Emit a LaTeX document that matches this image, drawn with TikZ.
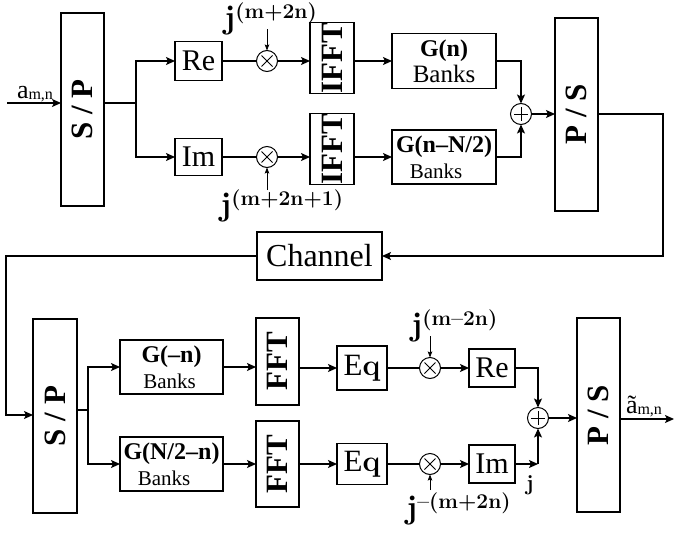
\documentclass[tikz,border=0pt]{standalone}
\usepackage{fontspec}
\usepackage{graphicx}
\newfontfamily\tms{Liberation Serif}
\usetikzlibrary{arrows.meta}
\newcommand\rottxt[1]{\rotatebox{90}{\tms\bfseries\fontsize{31}{32}\selectfont #1}}
\newcommand\jsup[1]{{\bfseries\fontsize{33}{33}\selectfont j}\raisebox{10pt}{\bfseries\fontsize{21}{21}\selectfont #1}}
\begin{document}
\begin{tikzpicture}[x=1pt,y=-1pt,
  every node/.style={inner sep=0pt, outer sep=0pt},
  box/.style={draw, line width=1.3pt, inner sep=0pt},
  conn/.style={line width=1.3pt},
  arr/.style={conn, -{Stealth[length=9pt,width=8pt,inset=2pt]}},
  thinarr/.style={line width=0.7pt, -{Stealth[length=6pt,width=4.5pt,inset=1pt]}},
  opc/.style={draw, circle, line width=1pt, minimum size=21pt},
  mult/.style={opc, path picture={
     \draw[line width=0.8pt] ([shift={(-5.5,-5.5)}]path picture bounding box.center) -- ([shift={(5.5,5.5)}]path picture bounding box.center);
     \draw[line width=0.8pt] ([shift={(-5.5,5.5)}]path picture bounding box.center) -- ([shift={(5.5,-5.5)}]path picture bounding box.center);}},
  addc/.style={opc, path picture={
     \draw[line width=0.8pt] ([shift={(-7,0)}]path picture bounding box.center) -- ([shift={(7,0)}]path picture bounding box.center);
     \draw[line width=0.8pt] ([shift={(0,-7)}]path picture bounding box.center) -- ([shift={(0,7)}]path picture bounding box.center);}},
  rtxt/.style={font=\tms\fontsize{30}{30}\selectfont},
  gtxt/.style={font=\tms\fontsize{24}{26}\selectfont, align=center}
]
\useasboundingbox (0,0) rectangle (675,533);

% ---------- transmitter ----------
\node[box, minimum width=43pt, minimum height=193pt] (sp1) at (82.5,109.5) {\rottxt{S / P}};
\node[box, rtxt, minimum width=47pt, minimum height=39pt] (re1) at (198.5,61) {Re};
\node[box, rtxt, minimum width=47pt, minimum height=37pt] (im1) at (198.5,157) {Im};
\node[mult] (m1) at (267,61) {};
\node[mult] (m2) at (267,157) {};
\node[box, minimum width=44pt, minimum height=70pt] (ifft1) at (332,58) {\rottxt{IFFT}};
\node[box, minimum width=44pt, minimum height=70pt] (ifft2) at (332,149) {\rottxt{IFFT}};
\node[box, gtxt, minimum width=104pt, minimum height=55pt] (g1) at (444,61) {\textbf{G(n)}\\{\fontsize{25}{25}\selectfont Banks}};
\node[box, gtxt, minimum width=104pt, minimum height=54pt] (g2) at (444,157) {\textbf{G(n–N/2)}\\{\fontsize{21}{21}\selectfont Banks}\hspace*{16pt}};
\node[addc] (add1) at (521,114) {};
\node[box, minimum width=43pt, minimum height=193pt] (ps1) at (576.5,114.5) {\rottxt{P / S}};
\node[box, font=\tms\fontsize{32}{32}\selectfont, minimum width=125pt, minimum height=48pt] (ch) at (319.5,256) {Channel};

\coordinate (in) at (7,103);
\draw[arr] (in) -- (in -| sp1.west);
\node[anchor=base west, font=\tms\fontsize{26}{26}\selectfont] (ain) at (17,98) {a\raisebox{-1pt}{\fontsize{16}{16}\selectfont m,n}};

\coordinate (j1) at (136,103);
\draw[conn] (sp1.east |- j1) -- (j1);
\draw[arr] (j1) |- (re1.west);
\draw[arr] (j1) |- (im1.west);
\draw[conn] (re1.east) -- (m1.west);
\draw[conn] (im1.east) -- (m2.west);
\draw[arr] (m1.east) -- (m1 -| ifft1.west);
\draw[arr] (m2.east) -- (m2 -| ifft2.west);
\draw[arr] (ifft1.east |- g1) -- (g1.west);
\draw[arr] (ifft2.east |- g2) -- (g2.west);
\draw[arr] (g1.east) -| (add1.north);
\draw[arr] (g2.east) -| (add1.south);
\draw[arr] (add1.east) -- (add1 -| ps1.west);
\coordinate (c1) at (663,114);
\draw[arr] (ps1.east |- c1) -- (c1) |- (ch.east);

\node[anchor=base west] (jl1) at (224,28) {\jsup{(m+2n)}};
\coordinate (jt1) at (267,29);
\draw[thinarr] (jt1) -- (m1.north);
\node[anchor=base west] (jl2) at (220,215) {\jsup{(m+2n+1)}};
\coordinate (jt2) at (267,190);
\draw[thinarr] (jt2) -- (m2.south);

% ---------- receiver ----------
\node[box, minimum width=44pt, minimum height=194pt] (sp2) at (55,416) {\rottxt{S / P}};
\node[box, gtxt, minimum width=103pt, minimum height=54pt] (g3) at (171.5,367) {\textbf{G(–n)}\\{\fontsize{21}{21}\selectfont Banks}\hspace*{4pt}};
\node[box, gtxt, minimum width=103pt, minimum height=54pt] (g4) at (171.5,464) {\textbf{G(N/2–n)}\\{\fontsize{21}{21}\selectfont Banks}\hspace*{15pt}};
\node[box, minimum width=43pt, minimum height=87pt] (fft1) at (277.5,361.5) {\rottxt{FFT}};
\node[box, minimum width=43pt, minimum height=86pt] (fft2) at (277.5,464) {\rottxt{FFT}};
\node[box, minimum width=50pt, minimum height=44pt] (eq1) at (362,368) {{\tms\fontsize{31}{31}\selectfont E}{\bfseries\fontsize{30}{30}\selectfont q}};
\node[box, minimum width=50pt, minimum height=41pt] (eq2) at (362,464) {{\tms\fontsize{31}{31}\selectfont E}{\bfseries\fontsize{30}{30}\selectfont q}};
\node[mult] (m3) at (430,368) {};
\node[mult] (m4) at (430,464) {};
\node[box, rtxt, minimum width=46pt, minimum height=38pt] (re2) at (492,368) {Re};
\node[box, rtxt, minimum width=46pt, minimum height=38pt] (im2) at (492,464) {Im};
\node[addc] (add2) at (538,418) {};
\node[box, minimum width=43pt, minimum height=194pt] (ps2) at (598.5,415) {\rottxt{P / S}};

\coordinate (c3) at (6,415);
\draw[arr] (ch.west) -| (c3) -- (c3 -| sp2.west);

\coordinate (j2) at (88,410);
\draw[conn] (sp2.east |- j2) -- (j2);
\draw[arr] (j2) |- (g3.west);
\draw[arr] (j2) |- (g4.west);
\draw[arr] (g3.east) -- (g3.east -| fft1.west);
\draw[arr] (g4.east) -- (g4.east -| fft2.west);
\draw[arr] (fft1.east |- eq1) -- (eq1.west);
\draw[arr] (fft2.east |- eq2) -- (eq2.west);
\draw[conn] (eq1.east) -- (m3.west);
\draw[conn] (eq2.east) -- (m4.west);
\draw[arr] (m3.east) -- (re2.west);
\draw[arr] (m4.east) -- (im2.west);
\draw[arr] (re2.east) -| (add2.north);
\coordinate (c4) at (538,464);
\draw[arr] (im2.east) -- (c4);
\draw[arr] (c4) -- (add2.south);
\draw[arr] (add2.east) -- (add2 -| ps2.west);
\coordinate (out) at (674,419);
\draw[arr] (ps2.east |- out) -- (out);
\node[anchor=base west, font=\tms\fontsize{26}{26}\selectfont] (aout) at (626,413) {ã\raisebox{-1pt}{\fontsize{16}{16}\selectfont m,n}};

\node[anchor=base west] (jl3) at (411,335) {\jsup{(m–2n)}};
\coordinate (jt3) at (430,336);
\draw[thinarr] (jt3) -- (m3.north);
\node[anchor=base west] (jl4) at (406,518) {\jsup{–(m+2n)}};
\coordinate (jt4) at (430,490);
\draw[thinarr] (jt4) -- (m4.south);
\node[anchor=base west, font=\bfseries\fontsize{22}{22}\selectfont] (jj) at (526,490) {j};
\end{tikzpicture}
\end{document}
